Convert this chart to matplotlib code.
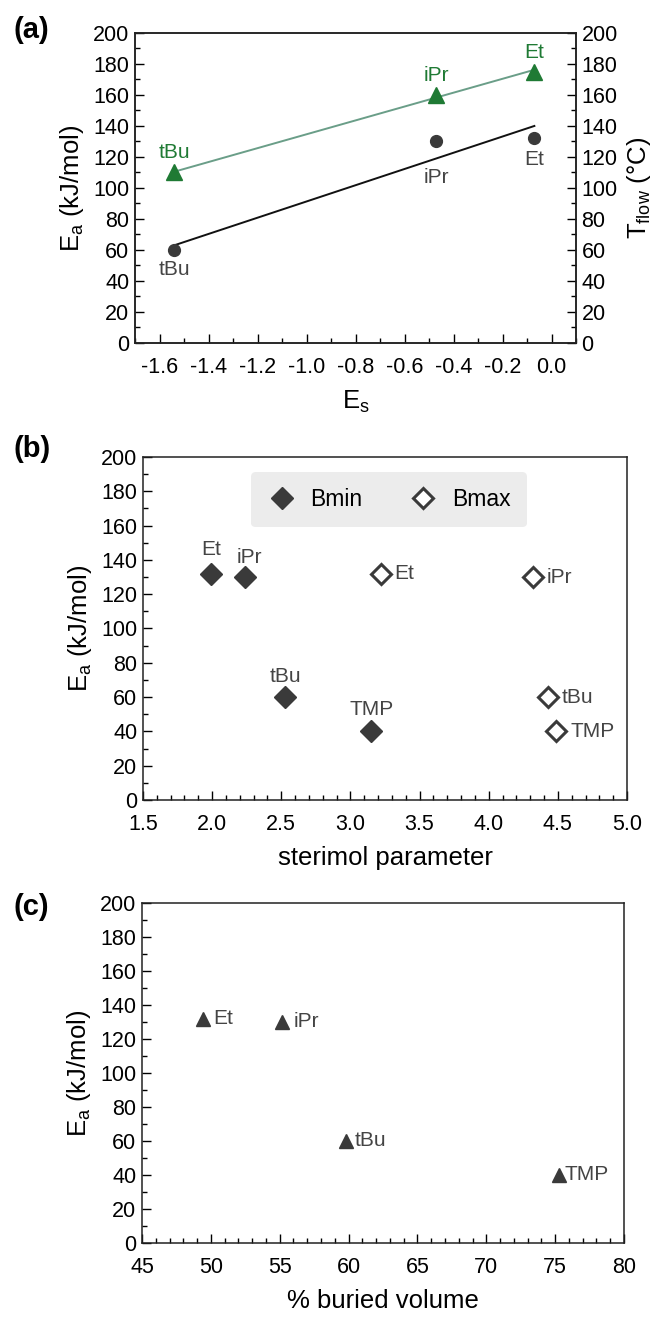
import numpy as np
import matplotlib
matplotlib.use("Agg")
import matplotlib.pyplot as plt
from matplotlib.ticker import MultipleLocator

plt.rcParams.update({
    "font.family": "Liberation Sans",
    "font.size": 15,
    "mathtext.fontset": "custom",
    "mathtext.rm": "Liberation Sans",
    "mathtext.it": "Liberation Sans:italic",
    "mathtext.default": "rm",
    "axes.linewidth": 1.1,
    "axes.edgecolor": "#222222",
})

# ---- data ----------------------------------------------------------------
ligands = ["tBu", "iPr", "Et"]
es = [-1.54, -0.47, -0.07]               # Taft steric parameter
ea_es = [60, 130, 132]                   # Ea (kJ/mol)
tflow = [110, 160, 175]                  # T_flow (degC)

b_labels = ["Et", "iPr", "tBu", "TMP"]
bmin = [1.99, 2.24, 2.53, 3.15]
bmax = [3.22, 4.32, 4.43, 4.49]
ea_b = [132, 130, 60, 40]

vbur_labels = ["Et", "iPr", "tBu", "TMP"]
vbur = [49.4, 55.2, 59.8, 75.3]
ea_v = [132, 130, 60, 40]

DARK = "#3a3a3a"
GREEN = "#1f7a34"
GREEN_LINE = "#6a9e88"
TXT = "#444444"
TICK_FS = 15.5
LAB_FS = 18.5
ANN_FS = 15


def ticks(ax, right=False):
    ax.tick_params(which="both", direction="in", width=1.0, labelsize=TICK_FS,
                   top=False, right=right)
    ax.tick_params(which="major", length=6.5)
    ax.tick_params(which="minor", length=3.5)
    ax.tick_params(axis="x", pad=10)
    ax.tick_params(axis="y", pad=4)


def style(ax, xmaj, xmin):
    ax.set_ylim(0, 200)
    ax.yaxis.set_major_locator(MultipleLocator(20))
    ax.yaxis.set_minor_locator(MultipleLocator(10))
    ax.xaxis.set_major_locator(MultipleLocator(xmaj))
    ax.xaxis.set_minor_locator(MultipleLocator(xmin))
    ticks(ax)
    ax.set_ylabel("E$_a$ (kJ/mol)", fontsize=LAB_FS, labelpad=5)


fig = plt.figure(figsize=(6.58, 13.17), dpi=100)

# ---- (a) -----------------------------------------------------------------
ax = fig.add_axes([0.2052, 0.7396, 0.6702, 0.2354])
style(ax, 0.2, 0.1)
ax.set_xlim(-1.7, 0.1)
ax.xaxis.set_major_formatter(plt.FuncFormatter(lambda v, p: f"{v:.1f}".replace("-0.0", "0.0")))
axr = ax.twinx()
axr.set_ylim(0, 200)
axr.yaxis.set_major_locator(MultipleLocator(20))
axr.yaxis.set_minor_locator(MultipleLocator(10))
ticks(axr, right=True)
axr.set_ylabel("T$_{flow}$ (°C)", fontsize=LAB_FS, labelpad=5)

k, b = np.polyfit(es, ea_es, 1)
xx = np.array([min(es), max(es)])
ax.plot(xx, k * xx + b, color="#111111", lw=1.4, zorder=2)
ax.plot(es, ea_es, "o", ms=8.5, color=DARK, zorder=3)
k2, b2 = np.polyfit(es, tflow, 1)
axr.plot(xx, k2 * xx + b2, color=GREEN_LINE, lw=1.4, zorder=2)
axr.plot(es, tflow, "^", ms=11, color=GREEN, zorder=3)

for name, x, y, dy in zip(ligands, es, ea_es, [-14, -26, -15]):
    ax.annotate(name, (x, y), xytext=(0, dy), textcoords="offset points",
                ha="center", va="center", fontsize=ANN_FS, color=TXT)
for name, x, y in zip(ligands, es, tflow):
    axr.annotate(name, (x, y), xytext=(0, 14), textcoords="offset points",
                 ha="center", va="center", fontsize=ANN_FS, color=GREEN)
ax.set_xlabel("E$_s$", fontsize=LAB_FS, labelpad=8)

# ---- (b) -----------------------------------------------------------------
ax = fig.add_axes([0.2173, 0.3926, 0.7356, 0.2604])
style(ax, 0.5, 0.1)
ax.set_xlim(1.5, 5.0)
ax.plot(bmin, ea_b, "D", ms=11, color=DARK, label="Bmin", zorder=3)
ax.plot(bmax, ea_b, "D", ms=10, mfc="white", mec=DARK, mew=2.2,
        label="Bmax", zorder=3)
for name, x, y, dx, dy in zip(b_labels, bmin, ea_b, [0, 3, 0, 0], [17, 14, 15, 16]):
    ax.annotate(name, (x, y), xytext=(dx, dy), textcoords="offset points",
                ha="center", va="center", fontsize=ANN_FS, color=TXT)
for name, x, y in zip(b_labels, bmax, ea_b):
    ax.annotate(name, (x, y), xytext=(10, 0), textcoords="offset points",
                ha="left", va="center", fontsize=ANN_FS, color=TXT)
leg = ax.legend(loc="center", bbox_to_anchor=(0.508, 0.875), ncol=2,
                fontsize=16.5, frameon=True, facecolor="#ececec",
                edgecolor="none", framealpha=1, fancybox=True,
                borderpad=0.7, handletextpad=0.6, columnspacing=2.0,
                handlelength=1.3)
ax.set_xlabel("sterimol parameter", fontsize=LAB_FS, labelpad=8)

# ---- (c) -----------------------------------------------------------------
ax = fig.add_axes([0.2158, 0.0562, 0.7325, 0.2582])
style(ax, 5, 1)
ax.set_xlim(45, 80)
ax.plot(vbur, ea_v, "^", ms=10, color=DARK, zorder=3)
for name, x, y, dx in zip(vbur_labels, vbur, ea_v, [8, 8, 6, 4]):
    ax.annotate(name, (x, y), xytext=(dx, 0), textcoords="offset points",
                ha="left", va="center", fontsize=ANN_FS, color=TXT)
ax.set_xlabel("% buried volume", fontsize=LAB_FS, labelpad=8)

# ---- panel letters -------------------------------------------------------
for lab, y in [("(a)", 0.988), ("(b)", 0.67), ("(c)", 0.322)]:
    fig.text(0.02, y, lab, fontsize=21, fontweight="bold", va="top", ha="left")

fig.savefig("out.png", dpi=100)
